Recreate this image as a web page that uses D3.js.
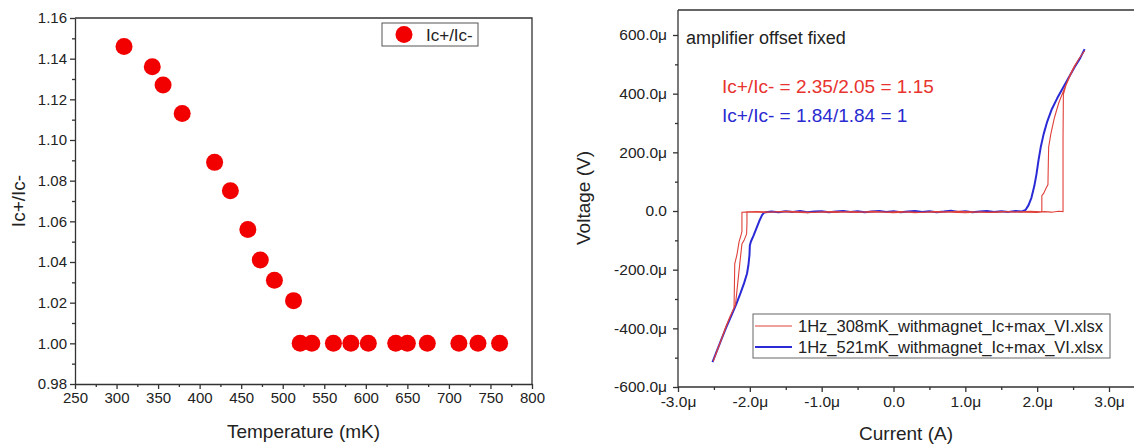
<!DOCTYPE html>
<meta charset="utf-8">
<style>
	body {
		margin:			0px;
		background:		white;
	}
	text {
		font-family:	"Liberation Sans", Arial, sans-serif;
		fill:			#222;
	}
	.axis path, .axis line {
		stroke:			#333;
		stroke-width:	1.3px;
	}
	.axis text {
		font-size:		15px;
		fill:			#222;
	}
	.axis.big text {
		font-size:		15.5px;
	}
</style>
<body>
<script src="https://d3js.org/d3.v7.min.js"></script>
<script>

	//Left panel: ratio vs temperature
	var tempMK = [309, 343, 356, 379, 418, 437, 458, 473, 490, 513, 521, 535, 561, 582, 603, 636, 650, 674, 712, 735, 761];
	var ratio = [1.146, 1.136, 1.127, 1.113, 1.089, 1.075, 1.056, 1.041, 1.031, 1.021,
	             1.000, 1.000, 1.000, 1.000, 1.000, 1.000, 1.000, 1.000, 1.000, 1.000, 1.000];
	var tempTicks = [250, 300, 350, 400, 450, 500, 550, 600, 650, 700, 750, 800];
	var ratioTicks = [0.98, 1.00, 1.02, 1.04, 1.06, 1.08, 1.10, 1.12, 1.14, 1.16];

	//Right panel: V-I curves, current in uA, voltage in uV
	var currentTicks = [-3, -2, -1, 0, 1, 2, 3];
	var voltageTicks = [-600, -400, -200, 0, 200, 400, 600];
	var legendNames = ["1Hz_308mK_withmagnet_Ic+max_VI.xlsx", "1Hz_521mK_withmagnet_Ic+max_VI.xlsx"];

	var curve308 = [
		[-2.51,-512],[-2.46,-478],[-2.40,-440],[-2.34,-398],[-2.28,-362],[-2.235,-338],[-2.22,-330],
		[-2.215,-260],[-2.21,-180],[-2.18,-150],[-2.15,-105],[-2.12,-80],[-2.11,-70],[-2.11,-4],
		[-2.0,-3],[-1.8,-5],[-1.6,-2],[-1.4,-4],[-1.2,-6],[-1.0,-3],[-0.8,-5],[-0.6,-2],[-0.4,-4],
		[-0.2,-3],[0.0,-6],[0.2,-3],[0.4,-5],[0.6,-2],[0.8,-4],[1.0,-6],[1.2,-3],[1.4,-5],[1.6,-2],
		[1.8,-4],[2.0,-5],[2.1,-2],[2.2,-4],[2.3,-1],[2.36,-2],
		[2.36,250],[2.365,398],[2.40,428],[2.46,462],[2.52,492],[2.58,518],[2.66,546],
		[2.60,525],[2.52,495],[2.45,460],[2.38,418],[2.30,368],[2.24,318],[2.19,262],[2.16,218],
		[2.155,160],[2.15,90],[2.12,76],[2.09,60],[2.065,52],[2.065,-3],
		[1.9,-1],[1.7,-4],[1.5,-2],[1.3,-5],[1.1,-3],[0.9,-1],[0.7,-4],[0.5,-3],[0.3,-6],[0.1,-2],
		[-0.1,-4],[-0.3,-1],[-0.5,-5],[-0.7,-3],[-0.9,-2],[-1.1,-5],[-1.3,-3],[-1.5,-1],[-1.7,-4],
		[-1.9,-2],[-2.04,-3],
		[-2.04,-40],[-2.045,-78],[-2.08,-100],[-2.11,-112],[-2.14,-180],[-2.17,-250],[-2.20,-320],
		[-2.26,-352],[-2.33,-395],[-2.41,-448],[-2.51,-512]
	];

	var curve521 = [
		[-2.52,-515],[-2.46,-478],[-2.40,-440],[-2.33,-398],[-2.26,-358],[-2.19,-318],[-2.13,-280],
		[-2.08,-246],[-2.04,-214],[-2.02,-185],[-2.005,-150],[-2.0,-118],[-1.985,-104],[-1.95,-85],
		[-1.91,-60],[-1.87,-35],[-1.83,-14],[-1.80,-5],
		[-1.7,-2],[-1.6,-4],[-1.5,-1],[-1.4,-3],[-1.3,0],[-1.2,-4],[-1.1,-2],[-1.0,-1],[-0.9,-4],
		[-0.8,-2],[-0.7,0],[-0.6,-3],[-0.5,-1],[-0.4,-4],[-0.3,-2],[-0.2,0],[-0.1,-3],[0.0,-1],
		[0.1,-4],[0.2,-2],[0.3,0],[0.4,-3],[0.5,-1],[0.6,-4],[0.7,-2],[0.8,1],[0.9,-3],[1.0,-1],
		[1.1,-4],[1.2,-2],[1.3,0],[1.4,-3],[1.5,-1],[1.6,-3],[1.7,0],[1.78,-2],
		[1.84,4],[1.88,20],[1.92,45],[1.96,85],[1.99,125],[2.02,175],[2.05,218],[2.09,262],
		[2.14,305],[2.20,345],[2.28,385],[2.36,420],[2.44,455],[2.52,490],[2.60,522],[2.66,552]
	];

	var svg = d3.select("body")
				.append("svg")
				.attr("width", 1134)
				.attr("height", 445);

	//===== Left chart =====
	var xL = d3.scaleLinear()
				.domain([250, 800])
				.range([75, 532]);
	var yL = d3.scaleLinear()
				.domain([0.98, 1.16])
				.range([384, 18]);

	//minor ticks first, then major axes on top
	svg.append("g")
		.attr("class", "axis")
		.attr("transform", "translate(0,384)")
		.call(d3.axisBottom(xL).tickValues(d3.range(275, 800, 50)).tickSize(3).tickSizeOuter(0).tickFormat(""))
		.select(".domain").remove();
	svg.append("g")
		.attr("class", "axis")
		.attr("transform", "translate(75,0)")
		.call(d3.axisLeft(yL).tickValues(d3.range(0.99, 1.16, 0.02)).tickSize(3).tickSizeOuter(0).tickFormat(""))
		.select(".domain").remove();

	svg.append("g")
		.attr("class", "axis")
		.attr("transform", "translate(0,384)")
		.call(d3.axisBottom(xL).tickValues(tempTicks).tickSize(5).tickSizeOuter(0).tickPadding(3));
	svg.append("g")
		.attr("class", "axis")
		.attr("transform", "translate(75,0)")
		.call(d3.axisLeft(yL).tickValues(ratioTicks).tickSize(5).tickSizeOuter(0).tickPadding(3)
				.tickFormat(d3.format(".2f")));

	//frame on top and right
	svg.append("path")
		.attr("d", "M" + xL(250) + "," + yL(1.16) + "H" + xL(800) + "V" + yL(0.98))
		.attr("fill", "none")
		.attr("stroke", "#333")
		.attr("stroke-width", 1.3);

	svg.selectAll("circle.pt")
		.data(tempMK)
		.enter()
		.append("circle")
		.attr("class", "pt")
		.attr("cx", function(d) { return xL(d); })
		.attr("cy", function(d, i) { return yL(ratio[i]); })
		.attr("r", 8.5)
		.attr("fill", "#f20000");

	//legend box
	svg.append("rect")
		.attr("x", 382).attr("y", 23)
		.attr("width", 96).attr("height", 23)
		.attr("fill", "white")
		.attr("stroke", "#555")
		.attr("stroke-width", 1);
	svg.append("circle")
		.attr("cx", 404).attr("cy", 34.5)
		.attr("r", 8.5)
		.attr("fill", "#f20000");
	svg.append("text")
		.attr("x", 426).attr("y", 40.5)
		.attr("font-size", "17px")
		.text("Ic+/Ic-");

	//axis titles
	svg.append("text")
		.attr("x", (xL(250) + xL(800)) / 2)
		.attr("y", 438)
		.attr("text-anchor", "middle")
		.attr("font-size", "19px")
		.text("Temperature (mK)");
	svg.append("text")
		.attr("transform", "translate(25," + yL(1.07) + ") rotate(-90)")
		.attr("text-anchor", "middle")
		.attr("font-size", "19px")
		.text("Ic+/Ic-");

	//===== Right chart =====
	var xR = d3.scaleLinear()
				.domain([-3, 3])
				.range([678, 1109]);
	var yR = d3.scaleLinear()
				.domain([-600, 600])
				.range([387, 35]);

	function microFormat(d) {
		return d === 0 ? "0.0" : d.toFixed(1) + "\u03bc";
	}

	svg.append("g")
		.attr("class", "axis")
		.attr("transform", "translate(0,387)")
		.call(d3.axisBottom(xR).tickValues(d3.range(-2.5, 3.5, 1)).tickSize(3).tickSizeOuter(0).tickFormat(""))
		.select(".domain").remove();
	svg.append("g")
		.attr("class", "axis")
		.attr("transform", "translate(678,0)")
		.call(d3.axisLeft(yR).tickValues(d3.range(-500, 700, 200)).tickSize(3).tickSizeOuter(0).tickFormat(""))
		.select(".domain").remove();

	svg.append("g")
		.attr("class", "axis big")
		.attr("transform", "translate(0,387)")
		.call(d3.axisBottom(xR).tickValues(currentTicks).tickSize(5).tickSizeOuter(0).tickPadding(4)
				.tickFormat(microFormat))
		.select(".domain").remove();
	svg.append("g")
		.attr("class", "axis big")
		.attr("transform", "translate(678,0)")
		.call(d3.axisLeft(yR).tickValues(voltageTicks).tickSize(5).tickSizeOuter(0).tickPadding(6)
				.tickFormat(microFormat))
		.select(".domain").remove();

	//axis lines run off the right edge of the picture
	svg.append("path")
		.attr("d", "M678,10H1134M678,10V387H1134")
		.attr("fill", "none")
		.attr("stroke", "#333")
		.attr("stroke-width", 1.3);

	var line = d3.line()
				.x(function(d) { return xR(d[0]); })
				.y(function(d) { return yR(d[1]); });

	svg.append("path")
		.datum(curve521)
		.attr("d", line)
		.attr("fill", "none")
		.attr("stroke", "#2a2ad6")
		.attr("stroke-width", 2)
		.attr("stroke-linejoin", "round");
	svg.append("path")
		.datum(curve308)
		.attr("d", line)
		.attr("fill", "none")
		.attr("stroke", "#e0403a")
		.attr("stroke-width", 1.1);

	//annotations
	svg.append("text")
		.attr("x", 686).attr("y", 44)
		.attr("font-size", "18px")
		.text("amplifier offset fixed");
	svg.append("text")
		.attr("x", 722).attr("y", 93)
		.attr("font-size", "19px")
		.style("fill", "#e8332e")
		.text("Ic+/Ic- = 2.35/2.05 = 1.15");
	svg.append("text")
		.attr("x", 722).attr("y", 122)
		.attr("font-size", "19px")
		.style("fill", "#2a2ad0")
		.text("Ic+/Ic- = 1.84/1.84 = 1");

	//legend
	var legendColors = ["#e0403a", "#2a2ad6"];
	svg.append("rect")
		.attr("x", 753).attr("y", 314)
		.attr("width", 357).attr("height", 44)
		.attr("fill", "white")
		.attr("stroke", "#666")
		.attr("stroke-width", 1);
	var leg = svg.selectAll("g.leg")
				.data(legendNames)
				.enter()
				.append("g")
				.attr("class", "leg")
				.attr("transform", function(d, i) { return "translate(755," + (326 + i * 21) + ")"; });
	leg.append("line")
		.attr("x1", 0).attr("x2", 37)
		.attr("stroke", function(d, i) { return legendColors[i]; })
		.attr("stroke-width", function(d, i) { return i ? 2 : 1.1; });
	leg.append("text")
		.attr("x", 43).attr("y", 6)
		.attr("font-size", "16.5px")
		.text(function(d) { return d; });

	//axis titles
	svg.append("text")
		.attr("x", 906)
		.attr("y", 440)
		.attr("text-anchor", "middle")
		.attr("font-size", "19px")
		.text("Current (A)");
	svg.append("text")
		.attr("transform", "translate(590,198) rotate(-90)")
		.attr("text-anchor", "middle")
		.attr("font-size", "19px")
		.text("Voltage (V)");

</script>
</body>
